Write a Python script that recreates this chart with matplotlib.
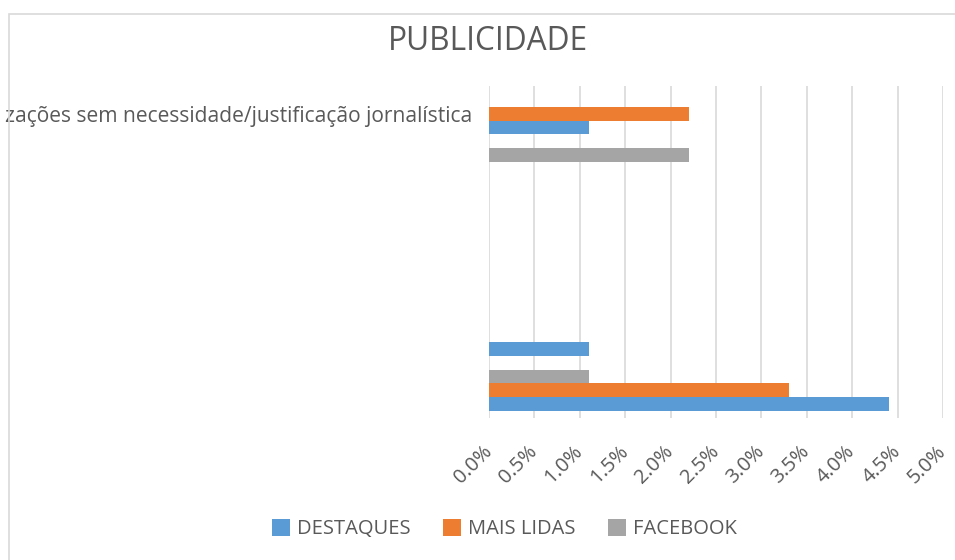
import matplotlib
matplotlib.use("Agg")
import matplotlib.pyplot as plt
from matplotlib.patches import Rectangle
from matplotlib.ticker import FuncFormatter
import numpy as np

plt.rcParams['font.family'] = ['Open Sans', 'DejaVu Sans']

# categories bottom -> top (only the top label is visible in the reference,
# and only its visible part is shown, as in the cropped reference)
categories = ["", "", "", "", "", "zações sem necessidade/justificação jornalística"]
series_names = ["DESTAQUES", "MAIS LIDAS", "FACEBOOK"]
destaques = [4.4, 1.1, 0.0, 0.0, 0.0, 1.1]
mais_lidas = [3.3, 0.0, 0.0, 0.0, 0.0, 2.2]
facebook = [1.1, 0.0, 0.0, 0.0, 2.2, 0.0]
colors = ["#5B9BD5", "#ED7D31", "#A5A5A5"]
xticks = [0.0, 0.5, 1.0, 1.5, 2.0, 2.5, 3.0, 3.5, 4.0, 4.5, 5.0]

fig = plt.figure(figsize=(9.55, 5.6), dpi=100)
ax = fig.add_axes([489/955, 1-418/560, (943-489)/955, (418-86)/560])

# frame border (cropped chart area)
fig.patches.append(Rectangle((9/955, -0.1), 1.2, 1-14/560+0.1, transform=fig.transFigure,
                             fill=False, edgecolor="#D9D9D9", linewidth=1.2))

y = np.arange(len(categories))
h = 0.25
for i, (vals, name, c) in enumerate(zip([destaques, mais_lidas, facebook], series_names, colors)):
    ax.barh(y - h + i*h, vals, height=h, color=c, label=name, zorder=3)

ax.set_xlim(0, 5)
ax.set_ylim(-0.5, len(categories)-0.5)
ax.set_xticks(xticks)
ax.xaxis.set_major_formatter(FuncFormatter(lambda v, p: f"{v:.1f}%"))
ax.set_yticks(y)
ax.set_yticklabels(categories)
ax.tick_params(axis='y', length=0, pad=12, labelsize=15.1, labelcolor="#595959")
ax.tick_params(axis='x', length=0, pad=22, labelsize=14.5, labelcolor="#595959", rotation=45)
for lab in ax.get_xticklabels():
    lab.set_ha('right')
    lab.set_va('center')
    lab.set_rotation_mode('anchor')
ax.grid(axis='x', color="#D9D9D9", linewidth=1.2, zorder=0)
for s in ax.spines.values():
    s.set_visible(False)

fig.text(0.511, 1-41/560, "PUBLICIDADE", ha='center', va='center', fontsize=22.8,
         color="#595959")

handles, labels = ax.get_legend_handles_labels()
fig.legend(handles, labels, loc='center', bbox_to_anchor=(0.528, 1-529/560), ncol=3,
           frameon=False, fontsize=14.5, labelcolor="#595959", handlelength=0.9,
           handleheight=0.9, columnspacing=1.6, handletextpad=0.35)

fig.savefig("out.png", dpi=100)
